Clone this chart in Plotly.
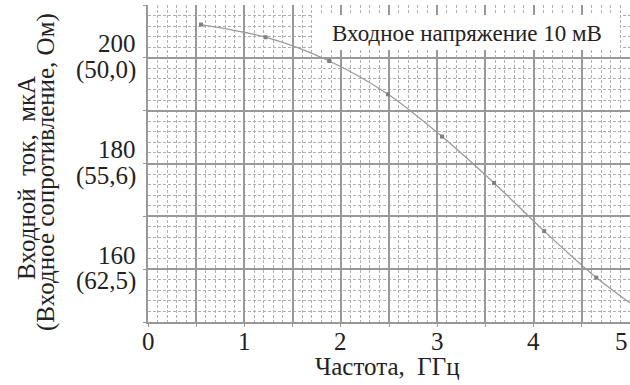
import plotly.graph_objects as go

# Data
freq_ghz = [0.55, 1.22, 1.88, 2.49, 3.05, 3.59, 4.11, 4.65]
current_ua = [206.3, 203.9, 199.4, 193.1, 185.1, 176.3, 167.2, 158.4]
curve_end_freq = [5.0]
curve_end_current = [153.6]

x_tick_vals = [0, 0.5, 1, 1.5, 2, 2.5, 3, 3.5, 4, 4.5]
x_tick_labels = ["0", "1", "2", "3", "4", "5"]
x_label_vals = [0, 1, 2, 3, 4, 5]
y_tick_vals = [150, 160, 170, 180, 190, 200, 210]
y_label_vals = [200, 180, 160]
y_label_current = ["200", "180", "160"]
y_label_resist = ["(50,0)", "(55,6)", "(62,5)"]

FONT = "Liberation Serif"
TXT = "#222222"
MAJ = "#999999"
MIN = "#b0b0b0"

fig = go.Figure()
fig.add_trace(go.Scatter(
    x=freq_ghz + curve_end_freq, y=current_ua + curve_end_current,
    mode="lines", line=dict(color="#9a9a9a", width=1.3, shape="spline", smoothing=0.9),
    hoverinfo="skip", showlegend=False))
fig.add_trace(go.Scatter(
    x=freq_ghz, y=current_ua, mode="markers",
    marker=dict(symbol="square", size=4, color="#808080"),
    showlegend=False))

fig.update_xaxes(
    range=[0, 5], tickvals=x_tick_vals, ticktext=[""] * len(x_tick_vals),
    showgrid=True, gridcolor=MAJ, gridwidth=1.5,
    showline=True, linecolor=MAJ, linewidth=1.5,
    ticks="outside", ticklen=3, tickcolor=MAJ,
    minor=dict(dtick=0.1, tick0=0, showgrid=True, gridcolor=MIN, griddash="3px,2px", gridwidth=1),
    zeroline=False, fixedrange=True)
fig.update_yaxes(
    range=[150, 210], tickvals=y_tick_vals, ticktext=[""] * len(y_tick_vals),
    showgrid=True, gridcolor=MAJ, gridwidth=1.5,
    showline=True, linecolor=MAJ, linewidth=1.5,
    ticks="outside", ticklen=3, tickcolor=MAJ,
    minor=dict(dtick=2, tick0=150, showgrid=True, gridcolor=MIN, griddash="3px,2px", gridwidth=1),
    zeroline=False, fixedrange=True)

W, H = 482, 317
def px(x): return (x - 148) / W
def py(y): return 1 - (y - 5) / H

annotations = []
for v, a, b in zip(y_label_vals, y_label_current, y_label_resist):
    annotations.append(dict(x=0, xref="paper", y=v, yref="y", text=a, showarrow=False,
                            xanchor="right", yanchor="middle", xshift=-10, yshift=14,
                            font=dict(family=FONT, size=25, color=TXT)))
    annotations.append(dict(x=0, xref="paper", y=v, yref="y", text=b, showarrow=False,
                            xanchor="right", yanchor="middle", xshift=-10, yshift=-12,
                            font=dict(family=FONT, size=25, color=TXT)))
# x tick labels
for v, t in zip(x_label_vals, x_tick_labels):
    annotations.append(dict(x=v, xref="x", y=py(341), yref="paper", text=t, showarrow=False,
                            xanchor="right" if v == 5 else "center", yanchor="middle",
                            font=dict(family=FONT, size=25, color=TXT)))
# axis titles
annotations.append(dict(x=px(387), y=py(366), xref="paper", yref="paper",
                        text="Частота,\u00a0 ГГц", showarrow=False,
                        xanchor="center", yanchor="middle",
                        font=dict(family=FONT, size=25, color=TXT)))
annotations.append(dict(x=px(26), y=py(178), xref="paper", yref="paper",
                        text="Входной\u00a0 ток,\u00a0 мкА", showarrow=False, textangle=-90,
                        xanchor="center", yanchor="middle",
                        font=dict(family=FONT, size=25, color=TXT)))
annotations.append(dict(x=px(46), y=py(172), xref="paper", yref="paper",
                        text="(Входное сопротивление, Ом)", showarrow=False, textangle=-90,
                        xanchor="center", yanchor="middle",
                        font=dict(family=FONT, size=25, color=TXT)))
# box text
annotations.append(dict(x=px(467), y=py(33), xref="paper", yref="paper",
                        text="Входное напряжение 10 мВ", showarrow=False,
                        xanchor="center", yanchor="middle",
                        font=dict(family=FONT, size=23, color=TXT)))

fig.add_shape(type="rect", xref="paper", yref="paper",
              x0=px(313), x1=px(620), y0=py(50), y1=py(15),
              fillcolor="white", line=dict(width=0), layer="above")

fig.update_layout(
    width=630, height=385,
    margin=dict(l=148, r=0, t=5, b=63),
    paper_bgcolor="white", plot_bgcolor="white",
    annotations=annotations, showlegend=False)

fig.write_html("out.html")
